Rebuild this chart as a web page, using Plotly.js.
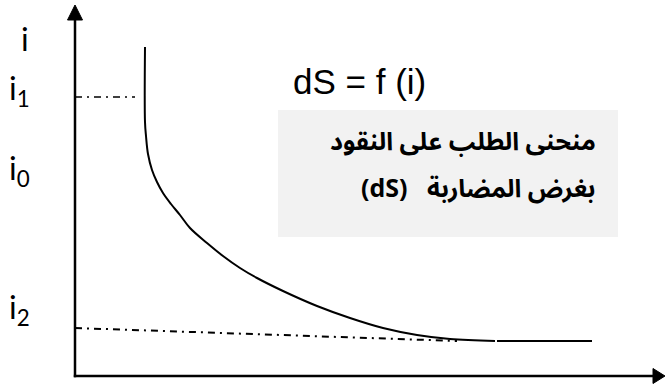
<!DOCTYPE html>
<html>
<head>
<meta charset="utf-8">
<script src="https://cdn.plot.ly/plotly-3.0.1.min.js"></script>
<style>html,body{margin:0;padding:0;background:#fff;}#chart{width:665px;height:389px;}</style>
</head>
<body>
<div id="chart"></div>
<script>
// Speculative demand for money curve dS = f(i) (conceptual units)
const curveX = [70, 70, 71, 73, 77, 82, 88, 96, 105, 115, 132, 148, 165, 182, 208, 242, 275, 308, 342, 375, 420];
const curveY = [329, 254, 240, 222, 206, 194, 183, 172, 161, 148, 133, 120, 108, 98, 85, 70, 58, 48, 41, 37, 35];
const flatX = [422, 517];
const flatY = [35, 35];
const i1LineX = [0, 60];
const i1LineY = [279, 279];
const i2LineX = [0, 382];
const i2LineY = [48, 35];
const yLabels = ['i<sub>1</sub>', 'i<sub>0</sub>', 'i<sub>2</sub>'];
const yLabelPos = [286, 206, 67];
const axisTitleY = 'i';
const formulaText = 'dS = f (i)';
const boxLine1 = '\u202Bمنحنى الطلب على النقود\u202C';
const boxLine2 = '\u202Bبغرض المضاربة   (dS)\u202C';

const dashDot = '7px,5px,2px,5px';
const traces = [
  {x: curveX, y: curveY, mode: 'lines', line: {color: '#000', width: 2, shape: 'spline', smoothing: 1}, hoverinfo: 'skip'},
  {x: flatX, y: flatY, mode: 'lines', line: {color: '#000', width: 2}, hoverinfo: 'skip'},
  {x: i1LineX, y: i1LineY, mode: 'lines', line: {color: '#000', width: 1.5, dash: dashDot}, hoverinfo: 'skip'},
  {x: i2LineX, y: i2LineY, mode: 'lines', line: {color: '#000', width: 2, dash: dashDot}, hoverinfo: 'skip'}
];

const labelFont = {family: 'Lato, Carlito, sans-serif', size: 32, color: '#000'};
const arabicFont = {family: 'Noto Sans Arabic, Arial, DejaVu Sans, sans-serif', size: 25, color: '#000', weight: 'bold'};
const annotations = [
  {x: -50, y: 337.5, text: axisTitleY, showarrow: false, xanchor: 'center', yanchor: 'middle', font: labelFont}
];
yLabels.forEach((t, k) => annotations.push({x: -68, y: yLabelPos[k], text: t, showarrow: false, xanchor: 'left', yanchor: 'middle', font: labelFont}));
annotations.push({x: 284.5, y: 294.5, text: formulaText, showarrow: false, xanchor: 'center', yanchor: 'middle',
  font: {family: 'Liberation Sans, Arial, sans-serif', size: 35, color: '#000'}});
annotations.push({x: 523, y: 234, text: boxLine1, showarrow: false, xanchor: 'right', yanchor: 'middle', align: 'right', font: arabicFont});
annotations.push({x: 523, y: 187, text: boxLine2, showarrow: false, xanchor: 'right', yanchor: 'middle', align: 'right', font: arabicFont});

const shapes = [
  {type: 'rect', xref: 'x', yref: 'y', x0: 203, x1: 543, y0: 139, y1: 266, fillcolor: '#f2f2f2', line: {width: 0}, layer: 'below'},
  {type: 'line', xref: 'x', yref: 'y', x0: 0, x1: 0, y0: -1.2, y1: 360, line: {color: '#000', width: 2.5}},
  {type: 'line', xref: 'x', yref: 'y', x0: -1.2, x1: 580, y0: 0, y1: 0, line: {color: '#000', width: 2.5}},
  {type: 'path', xref: 'x', yref: 'y', path: 'M 0 371 L -7.5 356 L 7.5 356 Z', fillcolor: '#000', line: {color: '#000', width: 1}},
  {type: 'path', xref: 'x', yref: 'y', path: 'M 590 0 L 578 7.5 L 578 -7.5 Z', fillcolor: '#000', line: {color: '#000', width: 1}}
];

const layout = {
  width: 665, height: 389,
  margin: {l: 0, r: 0, t: 0, b: 0, pad: 0},
  paper_bgcolor: '#fff', plot_bgcolor: '#fff',
  showlegend: false,
  xaxis: {range: [-75, 590], visible: false, fixedrange: true},
  yaxis: {range: [-13, 376], visible: false, fixedrange: true},
  annotations: annotations,
  shapes: shapes
};
Plotly.newPlot('chart', traces, layout, {staticPlot: true, displayModeBar: false});
</script>
</body>
</html>
